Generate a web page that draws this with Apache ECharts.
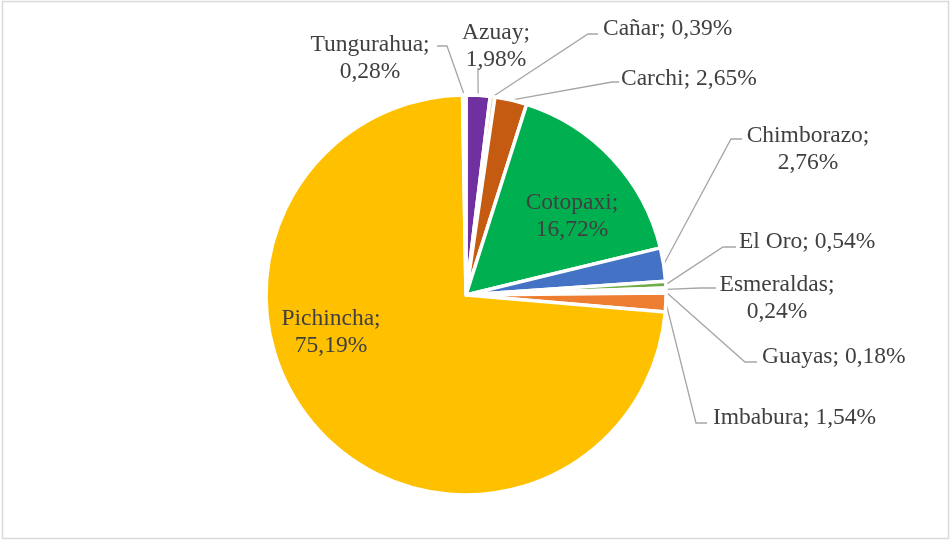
<!DOCTYPE html>
<html><head><meta charset="utf-8">
<script src="https://cdn.jsdelivr.net/npm/echarts@6/dist/echarts.min.js"></script>
<style>html,body{margin:0;padding:0;background:#fff}#c{width:950px;height:540px}</style>
</head><body><div id="c"></div>
<script>
// ---- data ----
const provinces = ['Azuay','Cañar','Carchi','Cotopaxi','Chimborazo','El Oro','Esmeraldas','Guayas','Imbabura','Pichincha','Tungurahua'];
const shares = [1.98, 0.39, 2.65, 16.72, 2.76, 0.54, 0.24, 0.18, 1.54, 75.19, 0.28];

// ---- styles ----
const sliceColors = ['#7030A0','#F8CBAD','#C55A11','#00B050','#4472C4','#70AD47','#E2F0D9','#DEEBF7','#ED7D31','#FFC000','#FFF2CC'];
const twoLineLabels = ['Tungurahua','Azuay','Chimborazo','Esmeraldas','Cotopaxi','Pichincha'];
const insideLabels = ['Cotopaxi','Pichincha'];
// label placement (anchor, alignment, leader elbow and end) keyed by name
const labelPlacement = {
  'Azuay':      {x:496, y:46,  align:'center', elbow:[478,72],  end:[478,68]},
  'Cañar':      {x:603, y:29,  align:'left',   elbow:[588,34],  end:[598,34]},
  'Carchi':     {x:621, y:79,  align:'left',   elbow:[612,82],  end:[619,82]},
  'Cotopaxi':   {x:572, y:216, align:'center'},
  'Chimborazo': {x:808, y:149, align:'center', elbow:[731,139], end:[742,139]},
  'El Oro':     {x:739, y:242, align:'left',   elbow:[723,247], end:[736,247]},
  'Esmeraldas': {x:777, y:298, align:'center', elbow:[700,288], end:[716,288]},
  'Guayas':     {x:762, y:357, align:'left',   elbow:[745,362], end:[757,362]},
  'Imbabura':   {x:713, y:418, align:'left',   elbow:[696,423], end:[707,423]},
  'Pichincha':  {x:331, y:332, align:'center'},
  'Tungurahua': {x:370, y:58,  align:'center', elbow:[447,46],  end:[437,46]}
};

function fmt(v){ return v.toFixed(2).replace('.', ','); }

const chart = echarts.init(document.getElementById('c'), null, {renderer:'canvas'});
const data = provinces.map((name, i) => {
  const inside = insideLabels.includes(name);
  return {
    name: name,
    value: shares[i],
    itemStyle: {color: sliceColors[i]},
    label: {position: inside ? 'inside' : 'outside'},
    labelLine: {show: !inside}
  };
});

chart.setOption({
  animation: false,
  backgroundColor: '#ffffff',
  graphic: [{
    type: 'rect', silent: true,
    shape: {x: 2.5, y: 1.5, width: 946, height: 537},
    style: {fill: 'none', stroke: '#D9D9D9', lineWidth: 1.5}
  }],
  series: [{
    type: 'pie',
    center: [466, 295],
    radius: 200,
    startAngle: 90,
    clockwise: true,
    avoidLabelOverlap: false,
    itemStyle: {borderColor: '#ffffff', borderWidth: 3.5},
    label: {
      show: true,
      fontFamily: 'Liberation Serif',
      fontSize: 23.5,
      lineHeight: 27,
      color: '#404040',
      formatter: p => twoLineLabels.includes(p.name) ? p.name + ';\n' + fmt(p.value) + '%' : p.name + '; ' + fmt(p.value) + '%'
    },
    labelLine: {show: true, length: 10, length2: 10, lineStyle: {color: '#A6A6A6', width: 1.3}},
    labelLayout: function (params) {
      const name = provinces[params.dataIndex];
      const cfg = labelPlacement[name];
      if (!cfg) return {};
      const out = {x: cfg.x, y: cfg.y, align: cfg.align, verticalAlign: 'middle'};
      if (cfg.elbow && params.labelLinePoints) {
        const p0 = params.labelLinePoints[0];
        out.labelLinePoints = [[p0[0], p0[1]], cfg.elbow.slice(), cfg.end.slice()];
      }
      return out;
    },
    data: data
  }]
});
</script></body></html>
